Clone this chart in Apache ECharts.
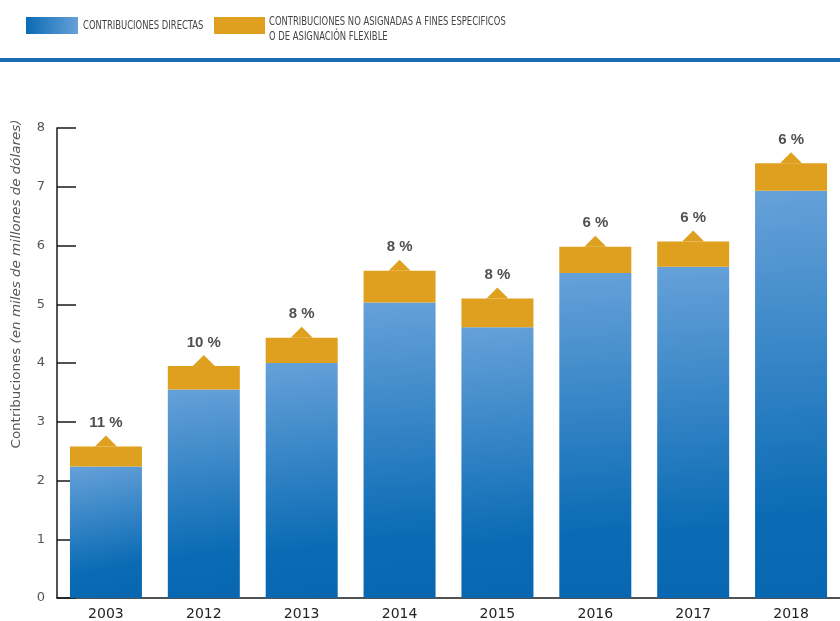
<!DOCTYPE html>
<html>
<head>
<meta charset="utf-8">
<script src="https://cdn.jsdelivr.net/npm/echarts@6/dist/echarts.min.js"></script>
<style>
  html, body { margin: 0; padding: 0; background: #ffffff; }
  #chart { width: 840px; height: 621px; }
</style>
</head>
<body>
<div id="chart"></div>
<script>
// Years shown on the category axis
const years = ['2003', '2012', '2013', '2014', '2015', '2016', '2017', '2018'];
// Direct contributions (billions of dollars)
const directas = [2.24, 3.55, 4.00, 5.03, 4.61, 5.53, 5.64, 6.93];
// Unearmarked / flexible contributions (billions of dollars), stacked on top
const flexibles = [0.34, 0.40, 0.43, 0.54, 0.49, 0.45, 0.43, 0.47];
// Share shown above each bar (percent)
const porcentajes = [11, 10, 8, 8, 8, 6, 6, 6];
// Value-axis tick labels
const yTicks = [0, 1, 2, 3, 4, 5, 6, 7, 8];

const totales = directas.map((d, i) => +(d + flexibles[i]).toFixed(2));

const BLUE_LIGHT = '#66a1d9';
const BLUE_DARK = '#0a6bb4';
const GOLD = '#dea01e';
const LEGEND_FONT = '12px "DejaVu Sans Condensed", "Liberation Sans Narrow", sans-serif';
const LEGEND_SCALE = 0.78;

const chart = echarts.init(document.getElementById('chart'), null, { renderer: 'canvas' });

const option = {
  backgroundColor: '#ffffff',
  animation: false,
  grid: { left: 57, right: -8, top: 128, bottom: 23, containLabel: false },
  xAxis: {
    type: 'category',
    data: years,
    boundaryGap: true,
    axisLine: { lineStyle: { color: '#1a1a1a', width: 1.5 } },
    axisTick: { inside: true, length: 11, alignWithLabel: false, lineStyle: { color: '#1a1a1a', width: 1.5 } },
    axisLabel: { color: '#222222', fontSize: 14, fontFamily: 'DejaVu Sans', margin: 9 }
  },
  yAxis: {
    type: 'value',
    min: yTicks[0],
    max: yTicks[yTicks.length - 1],
    interval: 1,
    splitLine: { show: false },
    axisLine: { show: true, lineStyle: { color: '#1a1a1a', width: 1.5 } },
    axisTick: { show: true, inside: true, length: 19, lineStyle: { color: '#1a1a1a', width: 1.5 } },
    axisLabel: {
      color: '#555555', fontSize: 13, fontFamily: 'DejaVu Sans', margin: 12,
      formatter: v => (yTicks.includes(v) ? String(v) : '')
    }
  },
  series: [
    {
      name: 'CONTRIBUCIONES DIRECTAS',
      type: 'bar',
      stack: 'total',
      barWidth: 72,
      data: directas,
      itemStyle: {
        color: new echarts.graphic.LinearGradient(0, 0, 0.35, 1, [
          { offset: 0, color: BLUE_LIGHT },
          { offset: 0.8, color: BLUE_DARK },
          { offset: 1, color: '#0967b1' }
        ])
      }
    },
    {
      name: 'CONTRIBUCIONES NO ASIGNADAS A FINES ESPECIFICOS O DE ASIGNACIÓN FLEXIBLE',
      type: 'bar',
      stack: 'total',
      barWidth: 72,
      data: flexibles,
      itemStyle: { color: GOLD }
    },
    {
      // pointer on top of each bar with the percentage above it
      type: 'scatter',
      data: totales,
      symbol: 'triangle',
      symbolSize: [22, 11],
      symbolOffset: [0, -5.5],
      itemStyle: { color: GOLD, opacity: 1 },
      z: 5,
      label: {
        show: true,
        position: 'top',
        distance: 5,
        color: '#505050',
        fontSize: 15,
        fontWeight: 'bold',
        fontFamily: 'Liberation Sans',
        formatter: p => porcentajes[p.dataIndex] + ' %'
      }
    }
  ],
  graphic: [
    // legend swatches and texts
    {
      type: 'rect', left: 26, top: 17, z: 10,
      shape: { width: 52, height: 17 },
      style: {
        fill: new echarts.graphic.LinearGradient(0, 0, 1, 0, [
          { offset: 0, color: BLUE_DARK },
          { offset: 1, color: BLUE_LIGHT }
        ])
      }
    },
    {
      type: 'text', x: 83, y: 26, z: 10, scaleX: LEGEND_SCALE,
      style: {
        text: 'CONTRIBUCIONES DIRECTAS',
        font: LEGEND_FONT,
        fill: '#444444', verticalAlign: 'middle'
      }
    },
    {
      type: 'rect', left: 214, top: 17, z: 10,
      shape: { width: 51, height: 17 },
      style: { fill: GOLD }
    },
    {
      type: 'text', x: 269, y: 14, z: 10, scaleX: LEGEND_SCALE,
      style: {
        text: 'CONTRIBUCIONES NO ASIGNADAS A FINES ESPECIFICOS\nO DE ASIGNACIÓN FLEXIBLE',
        font: LEGEND_FONT,
        lineHeight: 15.5,
        fill: '#444444', verticalAlign: 'top'
      }
    },
    // rule under the legend
    {
      type: 'rect', left: 0, top: 58, z: 10,
      shape: { width: 840, height: 4 },
      style: { fill: '#1a6db3' }
    },
    // value axis title
    {
      type: 'text', x: 17, y: 284, rotation: Math.PI / 2, scaleX: 1.12, z: 10,
      style: {
        text: '{a|Contribuciones }{b|(en miles de millones de dólares)}',
        align: 'center', verticalAlign: 'middle',
        rich: {
          a: { font: '12px "DejaVu Sans", sans-serif', fill: '#555555' },
          b: { font: 'italic 12px "DejaVu Sans", sans-serif', fill: '#555555' }
        }
      }
    }
  ]
};

chart.setOption(option);
</script>
</body>
</html>
